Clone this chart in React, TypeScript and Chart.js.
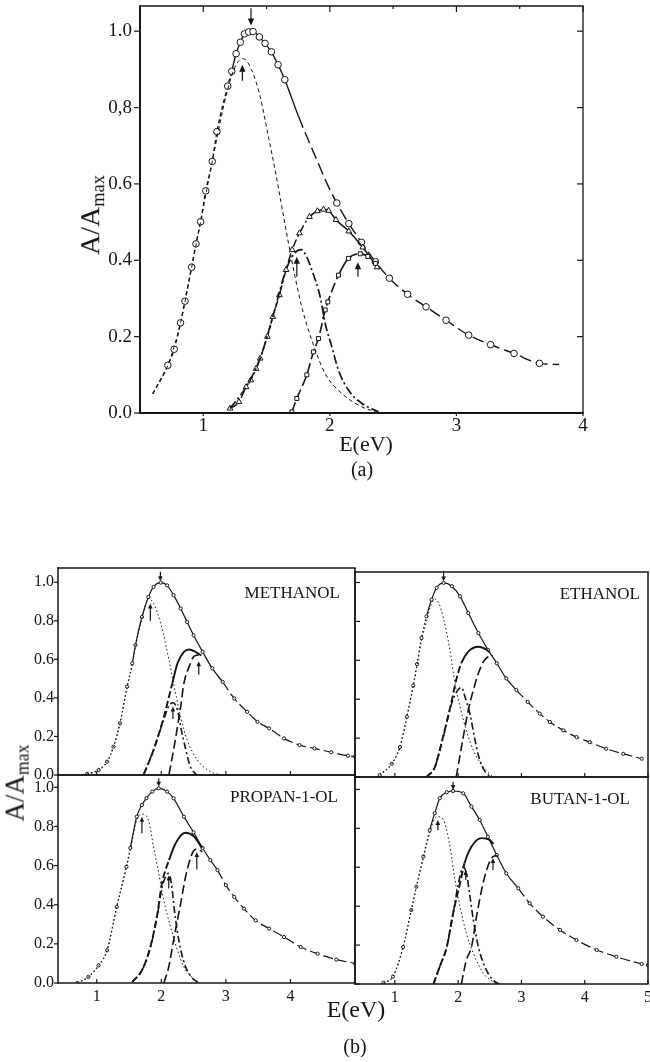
import React, { useEffect, useRef } from 'react';
import { Chart, registerables } from 'chart.js';

Chart.register(...registerables);

type P = [number, number];
type Arrow = [number, number, number]; // x, tail y, head y

// ---------------- Panel (a) data ----------------
const aXTicks = [1, 2, 3, 4];
const aXMinor = [1.5, 2.5, 3.5];
const aYTicks = [0, 0.2, 0.4, 0.6, 0.8, 1.0];
const aYTickLabels = ['0.0', '0.2', '0.4', '0.6', '0,8', '1.0'];

const aTotal: P[] = [
  [0.6, 0.05], [0.72, 0.125], [0.77, 0.167], [0.82, 0.236], [0.855, 0.293], [0.908, 0.382],
  [0.942, 0.443], [0.979, 0.501], [1.02, 0.582], [1.071, 0.659], [1.108, 0.737], [1.193, 0.856],
  [1.225, 0.895], [1.259, 0.941], [1.293, 0.971], [1.325, 0.993], [1.359, 0.998], [1.393, 0.999],
  [1.443, 0.985], [1.488, 0.968], [1.538, 0.946], [1.591, 0.912], [1.644, 0.873], [1.752, 0.777],
  [1.818, 0.724], [1.897, 0.663], [1.976, 0.602], [2.055, 0.55], [2.15, 0.496], [2.25, 0.447],
  [2.36, 0.396], [2.47, 0.353], [2.614, 0.311], [2.76, 0.278], [2.918, 0.243], [3.097, 0.204],
  [3.27, 0.179], [3.455, 0.156], [3.656, 0.13], [3.81, 0.127],
];
const aComp1: P[] = [
  [0.6, 0.05], [0.72, 0.125], [0.82, 0.236], [0.908, 0.382], [0.979, 0.501], [1.071, 0.659],
  [1.193, 0.848], [1.259, 0.912], [1.316, 0.928], [1.38, 0.9], [1.449, 0.829], [1.514, 0.724],
  [1.567, 0.637], [1.62, 0.541], [1.673, 0.445], [1.725, 0.357], [1.778, 0.278], [1.857, 0.191],
  [1.963, 0.103], [2.095, 0.051], [2.253, 0.016], [2.36, 0.003],
];
const aComp2: P[] = [
  [1.211, 0.012], [1.282, 0.029], [1.338, 0.068], [1.375, 0.086], [1.417, 0.116], [1.449, 0.143],
  [1.506, 0.2], [1.549, 0.252], [1.601, 0.309], [1.654, 0.375], [1.702, 0.427], [1.76, 0.471],
  [1.839, 0.514], [1.902, 0.529], [1.95, 0.533], [1.99, 0.53], [2.048, 0.506], [2.15, 0.476],
  [2.26, 0.434], [2.372, 0.382],
];
const aComp3: P[] = [
  [1.211, 0.012], [1.338, 0.068], [1.449, 0.143], [1.549, 0.252], [1.654, 0.375], [1.72, 0.418],
  [1.772, 0.428], [1.815, 0.41], [1.857, 0.375], [1.923, 0.305], [1.963, 0.235], [2.016, 0.173],
  [2.068, 0.112], [2.147, 0.06], [2.253, 0.025], [2.385, 0.003],
];
const aComp4: P[] = [
  [1.7, 0.003], [1.739, 0.038], [1.818, 0.1], [1.87, 0.16], [1.91, 0.195], [1.963, 0.27],
  [1.984, 0.291], [2.068, 0.361], [2.147, 0.405], [2.24, 0.417], [2.3, 0.41], [2.36, 0.392],
];
const aArrows: Arrow[] = [
  [1.377, 1.06, 1.015], [1.309, 0.87, 0.912], [1.739, 0.357, 0.409], [2.222, 0.357, 0.395],
];

// ---------------- Panel (b) data ----------------
const bXTicks = [1, 2, 3, 4, 5];
const bXTicksLeft = [1, 2, 3, 4];
const bYTicks = [0, 0.2, 0.4, 0.6, 0.8, 1.0];
const bYTickLabels = ['0.0', '0.2', '0.4', '0.6', '0.8', '1.0'];

// METHANOL
const meTotal: P[] = [
  [0.85, 0.005], [1.03, 0.026], [1.16, 0.069], [1.26, 0.147], [1.36, 0.268], [1.47, 0.458],
  [1.55, 0.579], [1.6, 0.674], [1.7, 0.82], [1.8, 0.924], [1.88, 0.976], [1.99, 0.998],
  [2.09, 0.984], [2.19, 0.933], [2.3, 0.864], [2.4, 0.794], [2.5, 0.725], [2.64, 0.639],
  [2.79, 0.553], [2.95, 0.483], [3.13, 0.397], [3.33, 0.328], [3.49, 0.276], [3.67, 0.242],
  [3.9, 0.19], [4.14, 0.155], [4.37, 0.138], [4.63, 0.118], [4.89, 0.1], [5.0, 0.095],
];
const meC1: P[] = [
  [0.85, 0.005], [1.03, 0.026], [1.16, 0.069], [1.26, 0.147], [1.36, 0.268], [1.47, 0.455],
  [1.55, 0.575], [1.6, 0.665], [1.7, 0.81], [1.8, 0.915], [1.88, 0.89], [1.99, 0.786],
  [2.12, 0.596], [2.19, 0.475], [2.3, 0.302], [2.4, 0.181], [2.56, 0.078], [2.76, 0.017], [2.95, 0.0],
];
const meC2: P[] = [
  [1.73, 0.005], [1.88, 0.13], [2.04, 0.302], [2.17, 0.475], [2.25, 0.579], [2.35, 0.639],
  [2.43, 0.651], [2.53, 0.639], [2.62, 0.62],
];
const meC3: P[] = [
  [1.73, 0.005], [1.88, 0.13], [2.04, 0.29], [2.12, 0.36], [2.18, 0.375], [2.25, 0.337],
  [2.3, 0.25], [2.38, 0.13], [2.45, 0.043], [2.55, 0.0],
];
const meC4: P[] = [
  [2.12, 0.005], [2.19, 0.13], [2.25, 0.25], [2.3, 0.354], [2.35, 0.475], [2.43, 0.561],
  [2.5, 0.613], [2.56, 0.622], [2.62, 0.625],
];
const meArrows: Arrow[] = [[1.986, 1.055, 1.005], [1.83, 0.8, 0.89], [2.18, 0.29, 0.355], [2.58, 0.52, 0.59]];

// ETHANOL
const etTotal: P[] = [
  [0.76, 0.01], [0.95, 0.068], [1.08, 0.154], [1.19, 0.31], [1.29, 0.47], [1.35, 0.58],
  [1.42, 0.714], [1.5, 0.826], [1.58, 0.912], [1.66, 0.973], [1.77, 0.998], [1.9, 0.981],
  [2.03, 0.929], [2.16, 0.843], [2.32, 0.74], [2.47, 0.654], [2.61, 0.585], [2.76, 0.507],
  [2.92, 0.447], [3.1, 0.386], [3.29, 0.326], [3.45, 0.283], [3.66, 0.24], [3.87, 0.205],
  [4.08, 0.179], [4.34, 0.145], [4.61, 0.119], [4.9, 0.094],
];
const etC1: P[] = [
  [0.76, 0.01], [0.95, 0.068], [1.08, 0.154], [1.19, 0.31], [1.29, 0.465], [1.35, 0.575],
  [1.42, 0.7], [1.5, 0.8], [1.57, 0.885], [1.63, 0.915], [1.7, 0.89], [1.76, 0.826],
  [1.87, 0.654], [1.95, 0.48], [2.03, 0.36], [2.13, 0.24], [2.24, 0.137], [2.4, 0.05], [2.55, 0.0],
];
const etC2: P[] = [
  [1.5, 0.0], [1.63, 0.05], [1.76, 0.205], [1.9, 0.395], [1.97, 0.5], [2.05, 0.585],
  [2.16, 0.645], [2.32, 0.67], [2.45, 0.654], [2.5, 0.64],
];
const etC3: P[] = [
  [1.5, 0.0], [1.63, 0.05], [1.76, 0.2], [1.9, 0.38], [1.98, 0.44], [2.05, 0.46],
  [2.12, 0.4], [2.19, 0.32], [2.26, 0.2], [2.33, 0.1], [2.42, 0.03], [2.52, 0.0],
];
const etC4: P[] = [
  [1.97, 0.0], [2.08, 0.205], [2.16, 0.343], [2.24, 0.447], [2.32, 0.533], [2.4, 0.593],
  [2.48, 0.62], [2.55, 0.625],
];
const etArrows: Arrow[] = [[1.77, 1.06, 1.005]];

// PROPAN-1-OL
const prTotal: P[] = [
  [0.7, 0.0], [0.87, 0.031], [1.03, 0.09], [1.16, 0.167], [1.31, 0.389], [1.46, 0.594],
  [1.52, 0.69], [1.62, 0.85], [1.7, 0.91], [1.77, 0.945], [1.86, 0.978], [1.96, 0.995],
  [2.09, 0.978], [2.19, 0.944], [2.35, 0.85], [2.5, 0.77], [2.64, 0.69], [2.76, 0.628],
  [2.87, 0.577], [3.0, 0.5], [3.13, 0.44], [3.28, 0.38], [3.46, 0.32], [3.67, 0.278],
  [3.9, 0.235], [4.16, 0.184], [4.42, 0.15], [4.71, 0.12], [5.0, 0.1],
];
const prC1: P[] = [
  [0.7, 0.0], [0.87, 0.031], [1.03, 0.09], [1.16, 0.167], [1.31, 0.389], [1.46, 0.594],
  [1.52, 0.679], [1.62, 0.835], [1.7, 0.863], [1.8, 0.833], [1.88, 0.696], [1.96, 0.56],
  [2.04, 0.42], [2.14, 0.29], [2.25, 0.167], [2.35, 0.082], [2.5, 0.022], [2.6, 0.0],
];
const prC2: P[] = [
  [1.55, 0.005], [1.7, 0.065], [1.83, 0.184], [1.94, 0.355], [2.01, 0.509], [2.12, 0.628],
  [2.22, 0.713], [2.37, 0.768], [2.5, 0.751], [2.63, 0.69],
];
const prC3: P[] = [
  [1.55, 0.005], [1.7, 0.065], [1.83, 0.18], [1.94, 0.35], [2.01, 0.49], [2.08, 0.55],
  [2.115, 0.56], [2.16, 0.5], [2.2, 0.38], [2.245, 0.27], [2.3, 0.17], [2.38, 0.08],
  [2.48, 0.025], [2.58, 0.0],
];
const prC4: P[] = [
  [2.04, 0.0], [2.115, 0.082], [2.19, 0.218], [2.29, 0.389], [2.375, 0.542], [2.45, 0.637],
  [2.5, 0.675], [2.56, 0.685], [2.635, 0.67],
];
const prArrows: Arrow[] = [[1.96, 1.046, 1.003], [1.7, 0.765, 0.85], [2.115, 0.483, 0.55], [2.55, 0.58, 0.67]];

// BUTAN-1-OL
const buTotal: P[] = [
  [0.82, 0.007], [0.97, 0.038], [1.13, 0.19], [1.26, 0.38], [1.34, 0.5], [1.45, 0.655],
  [1.55, 0.79], [1.63, 0.878], [1.71, 0.955], [1.82, 0.986], [1.92, 0.992], [2.08, 0.98],
  [2.21, 0.912], [2.34, 0.843], [2.47, 0.757], [2.61, 0.663], [2.76, 0.569], [2.95, 0.492],
  [3.13, 0.415], [3.34, 0.346], [3.61, 0.278], [3.87, 0.226], [4.19, 0.175], [4.5, 0.14],
  [4.9, 0.103], [5.0, 0.097],
];
const buC1: P[] = [
  [0.82, 0.007], [0.97, 0.038], [1.13, 0.19], [1.26, 0.38], [1.34, 0.5], [1.45, 0.65],
  [1.55, 0.775], [1.62, 0.845], [1.68, 0.86], [1.79, 0.826], [1.87, 0.706], [1.95, 0.535],
  [2.03, 0.397], [2.13, 0.26], [2.24, 0.158], [2.4, 0.055], [2.6, 0.0],
];
const buC2: P[] = [
  [1.61, 0.0], [1.71, 0.09], [1.82, 0.19], [1.92, 0.363], [2.03, 0.518], [2.1, 0.62],
  [2.21, 0.706], [2.37, 0.75], [2.5, 0.74], [2.56, 0.72],
];
const buC3: P[] = [
  [1.61, 0.0], [1.71, 0.09], [1.82, 0.19], [1.92, 0.36], [2.0, 0.51], [2.08, 0.6],
  [2.13, 0.57], [2.18, 0.466], [2.24, 0.33], [2.32, 0.19], [2.42, 0.09], [2.55, 0.02], [2.65, 0.0],
];
const buC4: P[] = [
  [2.05, 0.0], [2.13, 0.123], [2.21, 0.19], [2.29, 0.346], [2.37, 0.483], [2.45, 0.586],
  [2.55, 0.655], [2.62, 0.66],
];
const buArrows: Arrow[] = [[1.92, 1.04, 0.997], [1.68, 0.79, 0.843], [2.12, 0.535, 0.586], [2.55, 0.586, 0.648]];

// ---------------- styling helpers ----------------
const INK = '#151515';
const SERIF = "'Liberation Serif', 'Times New Roman', serif";

type Seg = [number, number[]][];
function ds(points: P[], o: { w: number; dash?: number[]; segs?: Seg; r?: any; style?: string }) {
  const base = o.dash ?? [];
  return {
    data: points.map(([x, y]) => ({ x, y })),
    showLine: true,
    borderColor: INK,
    borderWidth: o.w,
    borderDash: base,
    segment: o.segs
      ? {
          borderDash: (c: any) => {
            const x = c.p0.parsed.x;
            for (const [lim, d] of o.segs!) if (x < lim) return d;
            return base;
          },
        }
      : undefined,
    pointRadius: o.r ?? 0,
    pointHoverRadius: 0,
    pointStyle: o.style ?? 'circle',
    pointBackgroundColor: '#fff',
    pointBorderColor: INK,
    pointBorderWidth: 1,
    cubicInterpolationMode: 'monotone',
    tension: 0.4,
    fill: false,
  };
}

type TickSpec = { side: 'left' | 'right' | 'top' | 'bottom'; values: number[]; len: number };

const framePlugin = {
  id: 'frame',
  afterDraw(chart: any, _a: any, o: any) {
    const { ctx, chartArea: a, scales } = chart;
    ctx.save();
    ctx.strokeStyle = INK;
    const lw = o.lw as number[]; // left, bottom, top, right
    const line = (w: number, x0: number, y0: number, x1: number, y1: number) => {
      ctx.lineWidth = w;
      ctx.beginPath();
      ctx.moveTo(x0, y0);
      ctx.lineTo(x1, y1);
      ctx.stroke();
    };
    line(lw[0], a.left, a.top - lw[2] / 2, a.left, a.bottom + lw[1] / 2);
    line(lw[1], a.left - lw[0] / 2, a.bottom, a.right + lw[3] / 2, a.bottom);
    line(lw[2], a.left - lw[0] / 2, a.top, a.right + lw[3] / 2, a.top);
    line(lw[3], a.right, a.top, a.right, a.bottom);
    for (const t of (o.ticks || []) as TickSpec[]) {
      for (const v of t.values) {
        if (t.side === 'left' || t.side === 'right') {
          const py = scales.y.getPixelForValue(v);
          const px = t.side === 'left' ? a.left : a.right;
          const dx = t.side === 'left' ? t.len : -t.len;
          line(1.2, px, py, px + dx, py);
        } else {
          const px = scales.x.getPixelForValue(v);
          const py = t.side === 'bottom' ? a.bottom : a.top;
          const dy = t.side === 'bottom' ? -t.len : t.len;
          line(1.2, px, py, px, py + dy);
        }
      }
    }
    ctx.restore();
  },
};

const arrowPlugin = {
  id: 'arrows',
  afterDatasetsDraw(chart: any, _a: any, o: any) {
    const list = (o.list || []) as Arrow[];
    const { ctx, scales } = chart;
    ctx.save();
    ctx.strokeStyle = INK;
    ctx.fillStyle = INK;
    ctx.lineWidth = o.width ?? 1.2;
    const hl = o.head ?? 6;
    const hw = o.headW ?? 2.6;
    for (const [xv, y0, y1] of list) {
      const px = scales.x.getPixelForValue(xv);
      const p0 = scales.y.getPixelForValue(y0);
      const p1 = scales.y.getPixelForValue(y1);
      const dir = Math.sign(p1 - p0) || 1;
      ctx.beginPath();
      ctx.moveTo(px, p0);
      ctx.lineTo(px, p1 - dir * hl * 0.6);
      ctx.stroke();
      ctx.beginPath();
      ctx.moveTo(px, p1);
      ctx.lineTo(px - hw, p1 - dir * hl);
      ctx.lineTo(px + hw, p1 - dir * hl);
      ctx.closePath();
      ctx.fill();
    }
    ctx.restore();
  },
};

type Box = { l: number; t: number; r: number; b: number };
type PanelProps = {
  box: Box;
  yW: number;
  xH: number;
  xMin: number;
  xMax: number;
  yMax: number;
  xTicks: number[];
  showX: boolean;
  showY: boolean;
  yLabels: string[];
  yTicks: number[];
  fontSize: number;
  xPad: number;
  yPad: number;
  datasets: any[];
  frame: any;
  arrows: Arrow[];
  arrowHead?: number;
};

const PAD_T = 20;
const PAD_R = 20;

function Panel(p: PanelProps) {
  const ref = useRef<HTMLCanvasElement>(null);
  const width = p.box.r - p.box.l + p.yW + PAD_R;
  const height = p.box.b - p.box.t + PAD_T + p.xH;
  useEffect(() => {
    const font = { family: SERIF, size: p.fontSize };
    const chart = new Chart(ref.current as HTMLCanvasElement, {
      type: 'scatter',
      data: { datasets: p.datasets },
      options: {
        animation: false,
        responsive: false,
        maintainAspectRatio: false,
        events: [],
        layout: { padding: { top: PAD_T, right: PAD_R, left: 0, bottom: 0 } },
        plugins: {
          legend: { display: false },
          tooltip: { enabled: false },
          frame: p.frame,
          arrows: { list: p.arrows, head: p.arrowHead ?? 6, headW: (p.arrowHead ?? 6) * 0.45 },
        } as any,
        scales: {
          x: {
            type: 'linear',
            min: p.xMin,
            max: p.xMax,
            grid: { display: false, drawTicks: false },
            border: { display: false },
            ticks: {
              display: p.showX,
              font,
              color: INK,
              padding: p.xPad,
              maxRotation: 0,
              autoSkip: false,
              callback: (v: any) => String(v),
            },
            afterBuildTicks: (s: any) => {
              s.ticks = p.xTicks.map((v) => ({ value: v }));
            },
            afterFit: (s: any) => {
              s.height = p.xH;
            },
          },
          y: {
            type: 'linear',
            min: 0,
            max: p.yMax,
            grid: { display: false, drawTicks: false },
            border: { display: false },
            ticks: {
              display: p.showY,
              font,
              color: INK,
              padding: p.yPad,
              autoSkip: false,
              callback: (_v: any, i: number) => p.yLabels[i],
            },
            afterBuildTicks: (s: any) => {
              s.ticks = p.yTicks.map((v) => ({ value: v }));
            },
            afterFit: (s: any) => {
              s.width = p.yW;
            },
          },
        },
      },
      plugins: [framePlugin, arrowPlugin],
    } as any);
    return () => chart.destroy();
  }, []);
  return (
    <canvas
      ref={ref}
      width={width}
      height={height}
      style={{ position: 'absolute', left: p.box.l - p.yW, top: p.box.t - PAD_T, width, height }}
    />
  );
}

// ----- dataset builders -----
const aTotalRadius = (c: any) => {
  const x = c.raw?.x ?? 0;
  return (x > 1.7 && x < 2.0) || x < 0.65 || x > 3.75 ? 0 : 3.3;
};

const aDatasets = [
  ds(aComp1, { w: 1.0, dash: [4, 3] }),
  ds(aComp3, { w: 1.7, dash: [9, 3, 2, 3] }),
  ds(aComp4, { w: 1.6, dash: [10, 4], segs: [[1.99, [10, 4]], [2.1, []]], r: 2.8, style: 'rect' }),
  ds(aComp2, { w: 1.5, dash: [], segs: [[1.8, [8, 3, 2, 3]]], r: 3.3, style: 'triangle' }),
  ds(aTotal, { w: 1.4, dash: [12, 5], segs: [[1.22, [4, 3]], [1.66, []]], r: aTotalRadius }),
];

function bSets(total: P[], c1: P[], c2: P[], c3: P[], c4: P[]) {
  return [
    ds(c1, { w: 1.0, dash: [1.5, 2.5] }),
    ds(c3, { w: 1.6, dash: [7, 3, 2, 3] }),
    ds(c4, { w: 1.6, dash: [9, 4] }),
    ds(c2, { w: 1.9, dash: [], segs: [[2.05, [7, 3]]] }),
    ds(total, { w: 1.2, dash: [10, 4], segs: [[1.5, [1.5, 2.5]], [2.8, []]], r: 1.6 }),
  ];
}

const bFrameTicks = (leftLen: number): TickSpec[] => [
  { side: 'left', values: bYTicks, len: leftLen },
  { side: 'bottom', values: bXTicks, len: 4 },
];

const txt: React.CSSProperties = {
  position: 'absolute',
  fontFamily: SERIF,
  color: INK,
  lineHeight: 1,
  whiteSpace: 'nowrap',
};

function Centered({ x, y, size, children, rotate }: { x: number; y: number; size: number; children: any; rotate?: boolean }) {
  return (
    <div
      style={{
        ...txt,
        left: x,
        top: y,
        fontSize: size,
        transform: `translate(-50%, -50%)${rotate ? ' rotate(-90deg)' : ''}`,
      }}
    >
      {children}
    </div>
  );
}

function RightText({ right, y, size, children }: { right: number; y: number; size: number; children: any }) {
  return (
    <div style={{ ...txt, left: right, top: y, fontSize: size, transform: 'translate(-100%, -50%)' }}>{children}</div>
  );
}

const sub: React.CSSProperties = { fontSize: '0.66em', verticalAlign: '-0.28em' };

export default function App() {
  const common = { xH: 30, fontSize: 16, xPad: 4, yPad: 4, yTicks: bYTicks, yLabels: bYTickLabels, arrowHead: 5 };
  return (
    <div style={{ position: 'absolute', left: 0, top: 0, width: 650, height: 1062, background: '#fff', overflow: 'hidden' }}>
      {/* Panel (a) */}
      <Panel
        box={{ l: 140, t: 6, r: 583, b: 413 }}
        yW={60}
        xH={40}
        xMin={0.5}
        xMax={4.0}
        yMax={1.066}
        xTicks={aXTicks}
        showX
        showY
        yTicks={aYTicks}
        yLabels={aYTickLabels}
        fontSize={19}
        xPad={2}
        yPad={8}
        datasets={aDatasets}
        arrows={aArrows}
        arrowHead={7}
        frame={{
          lw: [2, 2, 1.3, 1.3],
          ticks: [
            { side: 'left', values: aYTicks, len: -6 },
            { side: 'right', values: aYTicks, len: 6 },
            { side: 'top', values: aXTicks, len: 6 },
            { side: 'top', values: aXMinor, len: 3 },
            { side: 'bottom', values: aXTicks, len: -3 },
          ],
        }}
      />
      <Centered x={92} y={215} size={28} rotate>
        A/A<span style={sub}>max</span>
      </Centered>
      <Centered x={366} y={444} size={22}>E(eV)</Centered>
      <Centered x={362} y={469} size={20}>(a)</Centered>

      {/* Panel (b) */}
      <Panel
        {...common}
        box={{ l: 58, t: 568, r: 355, b: 775 }}
        yW={40}
        xMin={0.4}
        xMax={5.0}
        yMax={1.074}
        xTicks={bXTicksLeft}
        showX={false}
        showY
        datasets={bSets(meTotal, meC1, meC2, meC3, meC4)}
        arrows={meArrows}
        frame={{ lw: [1.5, 1.5, 1.5, 1.5], ticks: bFrameTicks(-4) }}
      />
      <Panel
        {...common}
        box={{ l: 355, t: 572, r: 648, b: 777 }}
        yW={4}
        xMin={0.37}
        xMax={5.0}
        yMax={1.054}
        xTicks={bXTicks}
        showX={false}
        showY={false}
        datasets={bSets(etTotal, etC1, etC2, etC3, etC4)}
        arrows={etArrows}
        frame={{ lw: [1.5, 1.5, 1.5, 1.5], ticks: bFrameTicks(5) }}
      />
      <Panel
        {...common}
        box={{ l: 58, t: 775, r: 355, b: 983 }}
        yW={40}
        xMin={0.4}
        xMax={5.0}
        yMax={1.063}
        xTicks={bXTicksLeft}
        showX
        showY
        datasets={bSets(prTotal, prC1, prC2, prC3, prC4)}
        arrows={prArrows}
        frame={{ lw: [1.5, 1.5, 1.5, 1.5], ticks: bFrameTicks(-4) }}
      />
      <Panel
        {...common}
        box={{ l: 355, t: 777, r: 648, b: 984 }}
        yW={4}
        xMin={0.37}
        xMax={5.0}
        yMax={1.064}
        xTicks={bXTicks}
        showX
        showY={false}
        datasets={bSets(buTotal, buC1, buC2, buC3, buC4)}
        arrows={buArrows}
        frame={{ lw: [1.5, 1.5, 1.5, 1.5], ticks: bFrameTicks(5) }}
      />
      <RightText right={340} y={592} size={17}>METHANOL</RightText>
      <RightText right={640} y={593} size={17}>ETHANOL</RightText>
      <RightText right={338} y={796} size={17}>PROPAN-1-OL</RightText>
      <RightText right={630} y={798} size={17}>BUTAN-1-OL</RightText>
      <Centered x={17} y={783} size={27} rotate>
        A/A<span style={sub}>max</span>
      </Centered>
      <Centered x={356} y={1009} size={24}>E(eV)</Centered>
      <Centered x={355} y={1046} size={20}>(b)</Centered>
    </div>
  );
}
